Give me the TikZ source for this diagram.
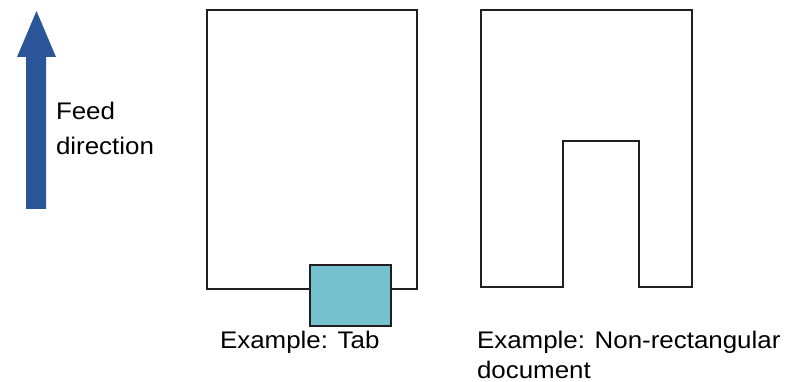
\documentclass[tikz,border=0pt]{standalone}
\usepackage{fontspec}
\setmainfont[FakeStretch=1.08]{Liberation Sans}
\definecolor{feedblue}{HTML}{2A5699}
\definecolor{tabfill}{HTML}{75C2CF}
\definecolor{docline}{HTML}{231F20}
\begin{document}
\begin{tikzpicture}[x=1pt,y=-1pt,
  doc/.style={draw=docline,line width=2.4pt,line join=miter},
  lbl/.style={anchor=base west,inner sep=0pt,outer sep=0pt,font=\fontsize{24}{28}\selectfont,text=black}]
\useasboundingbox (0,0) rectangle (787,382);
% feed arrow
\fill[feedblue] (26,209) -- (26,57) -- (17,57) -- (36.5,11) -- (56,57) -- (46,57) -- (46,209) -- cycle;
\node[lbl] (feed) at (56,120) {Feed};
\node[lbl] (dir) at (56,154.5) {direction};
% left document with tab
\draw[doc] (207,10) rectangle (417,289);
\draw[docline,line width=1.6pt,fill=tabfill] (310,265) rectangle (391,326);
\node[lbl] (tab) at (220,348.5) {Example: Tab};
% right non-rectangular document
\draw[doc] (481,10) -- (692,10) -- (692,287) -- (639,287) -- (639,141) -- (563,141) -- (563,287) -- (481,287) -- cycle;
\node[lbl] (nonrect) at (477,348.5) {Example: Non-rectangular};
\node[lbl] (docu) at (477,378) {document};
\end{tikzpicture}
\end{document}
